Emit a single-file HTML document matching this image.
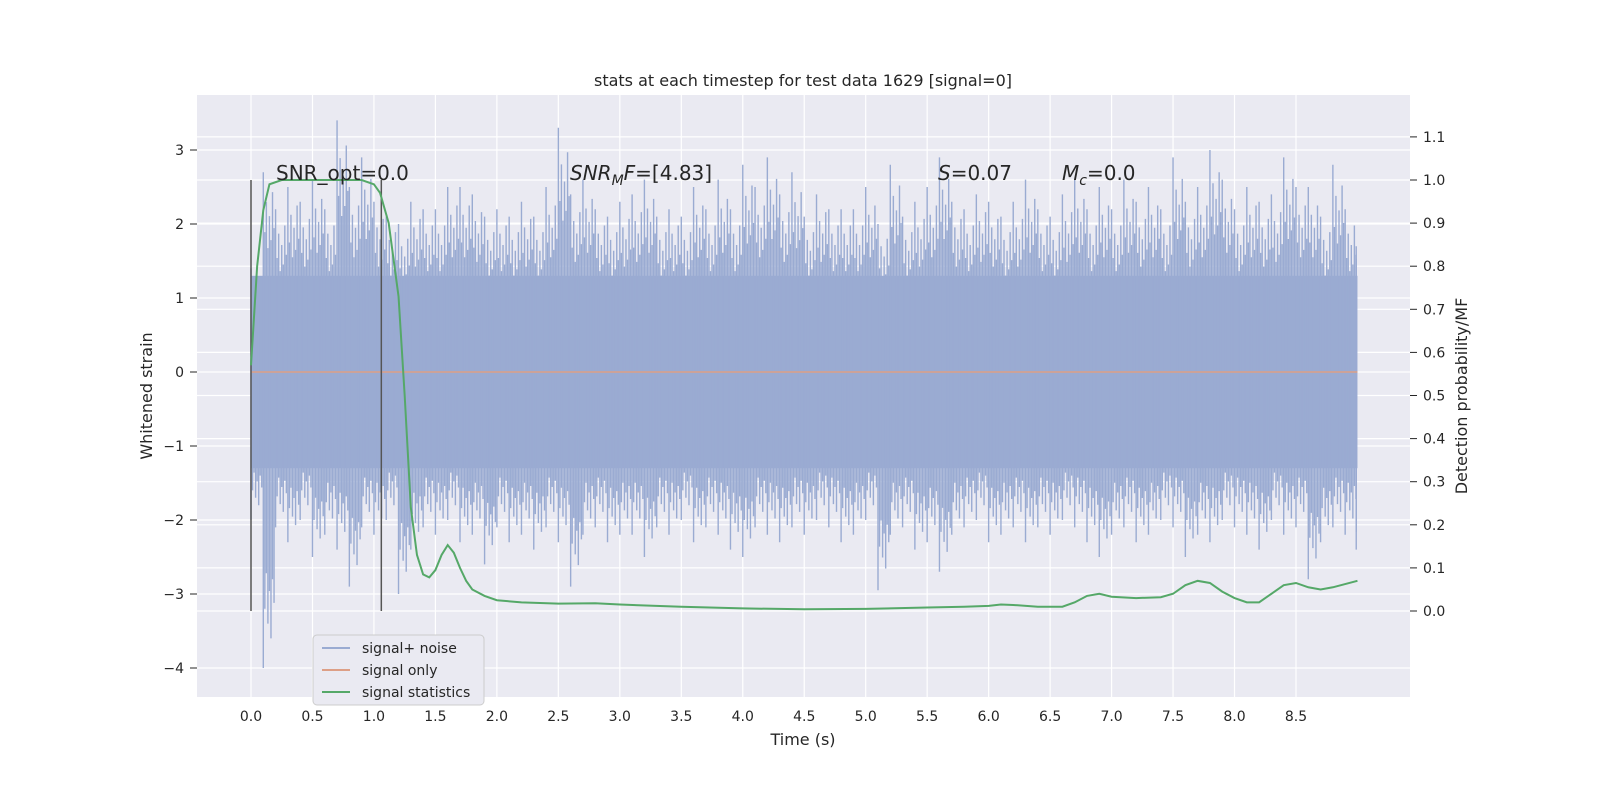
<!DOCTYPE html>
<html><head><meta charset="utf-8"><style>
body{margin:0;background:#fff}
svg text{font-family:"DejaVu Sans","Liberation Sans",sans-serif;fill:#262626}
</style></head><body>
<svg id="c" width="1600" height="800" xmlns="http://www.w3.org/2000/svg"></svg>
<script>
const xTicks=[0,0.5,1,1.5,2,2.5,3,3.5,4,4.5,5,5.5,6,6.5,7,7.5,8,8.5];
const yTicks=[-4,-3,-2,-1,0,1,2,3];
const rTicks=[0,0.1,0.2,0.3,0.4,0.5,0.6,0.7,0.8,0.9,1.0,1.1];
const noiseHi=[1.4,2.7,2.2,2.5,2.3,2.6,2.2,3.4,2.5,2.9,2.3,2.1,2.0,2.3,2.2,2.2,2.5,2.5,2.4,2.1,2.2,2.1,2.3,2.1,2.5,3.3,2.4,2.6,2.2,2.1,2.3,2.4,2.6,2.1,2.2,2.1,2.5,2.2,2.6,2.2,2.8,2.5,2.9,2.4,2.7,2.1,2.4,2.2,2.2,2.2,2.5,2.0,2.8,2.1,2.3,2.5,2.9,2.3,2.2,2.4,2.3,2.1,2.3,2.6,2.2,2.1,2.4,2.6,2.2,2.5,2.2,2.6,2.3,2.5,2.2,2.9,2.3,2.5,3.0,2.6,2.2,2.5,2.3,2.4,2.9,2.5,2.5,2.1,2.8,2.2,1.7];
const noiseLo=[-2.0,-4.0,-2.1,-2.3,-2.0,-2.5,-2.2,-2.4,-2.9,-2.1,-2.2,-2.0,-3.0,-2.4,-2.1,-2.2,-2.0,-2.3,-2.2,-2.6,-2.1,-2.3,-2.2,-2.4,-2.1,-2.3,-2.9,-2.2,-2.1,-2.3,-2.2,-2.2,-2.5,-2.1,-2.2,-2.0,-2.3,-2.1,-2.2,-2.4,-2.5,-2.1,-2.2,-2.3,-2.1,-2.2,-2.0,-2.1,-2.3,-2.2,-2.0,-2.95,-2.2,-2.1,-2.4,-2.3,-2.7,-2.2,-2.1,-2.0,-2.3,-2.2,-2.1,-2.3,-2.1,-2.2,-2.0,-2.1,-2.3,-2.5,-2.2,-2.1,-2.3,-2.2,-2.0,-2.1,-2.5,-2.2,-2.3,-2.0,-2.1,-2.2,-2.4,-2.0,-2.2,-2.1,-2.8,-2.3,-2.1,-2.2,-2.4];
const probT=[0,0.05,0.1,0.15,0.25,0.5,0.75,0.9,1.0,1.05,1.12,1.2,1.25,1.3,1.35,1.4,1.45,1.5,1.55,1.6,1.65,1.7,1.75,1.8,1.9,2.0,2.2,2.5,2.8,3.0,3.5,4.0,4.5,5.0,5.5,5.8,6.0,6.1,6.2,6.4,6.6,6.7,6.8,6.9,7.0,7.2,7.4,7.5,7.6,7.7,7.8,7.9,8.0,8.1,8.2,8.3,8.4,8.5,8.6,8.7,8.8,9.0];
const probV=[0.57,0.8,0.93,0.99,1.0,1.0,1.0,1.0,0.99,0.97,0.9,0.73,0.5,0.24,0.13,0.085,0.078,0.095,0.13,0.153,0.135,0.10,0.07,0.05,0.035,0.025,0.02,0.017,0.018,0.015,0.01,0.006,0.004,0.005,0.008,0.01,0.012,0.015,0.014,0.01,0.01,0.02,0.035,0.04,0.033,0.03,0.032,0.04,0.06,0.07,0.065,0.045,0.03,0.02,0.02,0.04,0.06,0.065,0.055,0.05,0.055,0.07];
const markers=[0,1.06];
const X=t=>251+t*122.94, Y=v=>372-v*74, R=p=>611-p*431;
const svg=document.getElementById('c');const NS='http://www.w3.org/2000/svg';
function mk(tag,attrs,parent){const e=document.createElementNS(NS,tag);for(const k in attrs)e.setAttribute(k,attrs[k]);(parent||svg).appendChild(e);return e;}
const bg=mk('rect',{x:197,y:95,width:1213,height:602,fill:'#eaeaf2'});


xTicks.forEach(t=>{mk('line',{x1:X(t),x2:X(t),y1:95,y2:697,stroke:'#fff','stroke-width':1.2});
 const l=mk('text',{x:X(t),y:721,'font-size':14,'text-anchor':'middle'});l.textContent=t.toFixed(1);
 
 });
yTicks.forEach(v=>{mk('line',{x1:197,x2:1410,y1:Y(v),y2:Y(v),stroke:'#fff','stroke-width':1.2});
 mk('line',{x1:190,x2:197,y1:Y(v),y2:Y(v),stroke:'#262626'});
 const l=mk('text',{x:184,y:Y(v)+5,'font-size':14,'text-anchor':'end'});l.textContent=(v<0?'−':'')+Math.abs(v);
 
 });
rTicks.forEach(p=>{mk('line',{x1:197,x2:1410,y1:R(p),y2:R(p),stroke:'#fff','stroke-width':1.2});
 mk('line',{x1:1410,x2:1417,y1:R(p),y2:R(p),stroke:'#262626'});
 const l=mk('text',{x:1423,y:R(p)+5,'font-size':14});l.textContent=p.toFixed(1);
 
 });
const band=mk('rect',{x:X(0),y:Y(1.3),width:X(9)-X(0),height:Y(-1.3)-Y(1.3),fill:'#9aabd2'});


const fh=[1,0.7,0.85,0.62,0.78,0.66,0.9,0.72], fl=[1,0.8,0.68,0.85,0.74,0.9,0.7,0.78];
noiseHi.forEach((h,i)=>{const t=Math.min(i*0.1,8.99);
 for(let k=0;k<8;k++){const tt=Math.min(t+k*0.0125,8.99);
  const ln=mk('line',{x1:X(tt),x2:X(tt),y1:Y(h*fh[k]),y2:Y(noiseLo[i]*fl[k]),stroke:'#9aabd2','stroke-width':1.4});
  
  }});
const sig=mk('line',{x1:X(0),x2:X(9),y1:Y(0),y2:Y(0),stroke:'#dd9f86','stroke-width':1.5});


markers.forEach(t=>{const m=mk('line',{x1:X(t),x2:X(t),y1:R(1.0),y2:R(0),stroke:'#555','stroke-width':1.5});
 
 });
const pl=mk('polyline',{points:probT.map((t,i)=>X(t)+','+R(probV[i])).join(' '),fill:'none',stroke:'#55a868','stroke-width':2});


function txt(x,y,s,html,name,extra){const e=mk('text',Object.assign({x:x,y:y,'font-size':s},extra||{}));e.innerHTML=html;
 
 return e;}
txt(803,86,16,'stats at each timestep for test data 1629 [signal=0]','chart-title',{'text-anchor':'middle'});
txt(803,745,16,'Time (s)','x-axis-title',{'text-anchor':'middle'});
txt(152,396,16,'Whitened strain','y-axis-title',{'text-anchor':'middle',transform:'rotate(-90 152 396)'});
txt(1467,396,16,'Detection probability/MF','right-axis-title',{'text-anchor':'middle',transform:'rotate(-90 1467 396)'});
txt(276,180,20,'SNR_opt=0.0','snr-opt-label');
txt(570,180,20,'<tspan font-style="italic">SNR</tspan><tspan font-style="italic" font-size="14" dy="5">M</tspan><tspan font-style="italic" dy="-5">F</tspan>=[4.83]','snr-mf-label');
txt(938,180,20,'<tspan font-style="italic">S</tspan>=0.07','s-label');
txt(1062,180,20,'<tspan font-style="italic">M</tspan><tspan font-style="italic" font-size="14" dy="5">c</tspan><tspan dy="-5">=0.0</tspan>','mc-label');
const lg=mk('g',{});
mk('rect',{x:313,y:635,width:171,height:70,rx:4,fill:'#eaeaf2',stroke:'#ccc'},lg);
[['signal+ noise','#9aabd2'],['signal only','#dd9f86'],['signal statistics','#55a868']].forEach((e,i)=>{
 const y=648+i*22;mk('line',{x1:322,x2:350,y1:y,y2:y,stroke:e[1],'stroke-width':2},lg);
 const t=mk('text',{x:362,y:y+5,'font-size':14},lg);t.textContent=e[0];
 
 });
</script></body></html>
